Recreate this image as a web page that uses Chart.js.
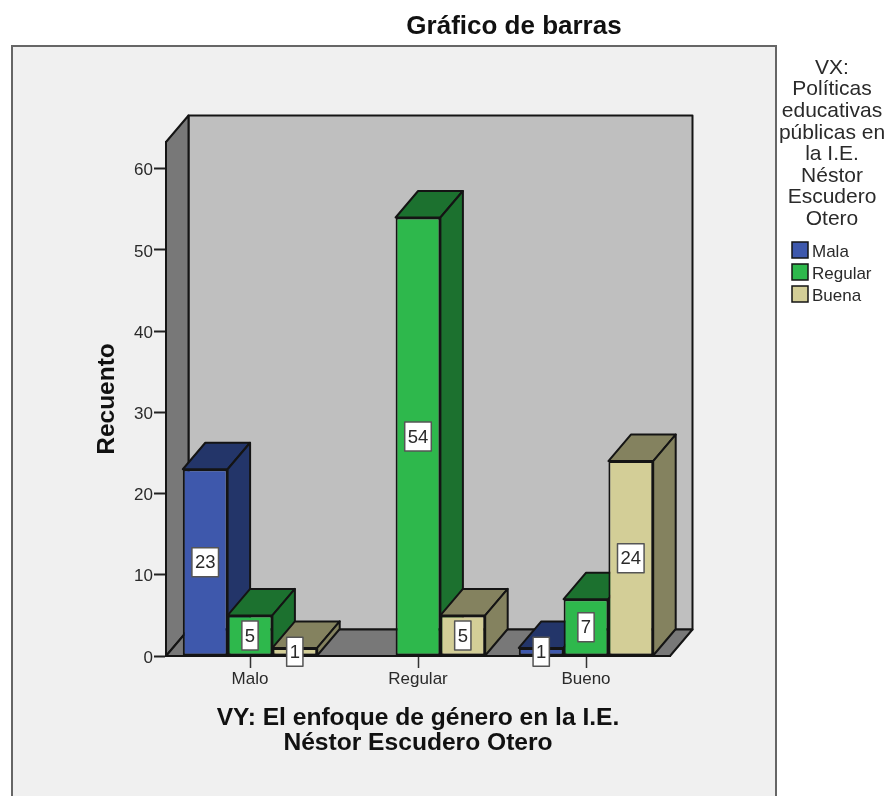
<!DOCTYPE html>
<html>
<head>
<meta charset="utf-8">
<title>Gráfico de barras</title>
<script src="https://cdn.jsdelivr.net/npm/chart.js@4"></script>
<style>
    html, body { margin: 0; padding: 0; background: #fff; overflow: hidden; }
    #wrap { position: relative; width: 890px; height: 796px; }
</style>
</head>
<body>
<div id="wrap"><canvas id="barChart" width="890" height="796"></canvas></div>
<script>
// Datos
const categories = ['Malo', 'Regular', 'Bueno'];
const seriesNames = ['Mala', 'Regular', 'Buena'];
const malaValues = [23, null, 1];
const regularValues = [5, 54, 7];
const buenaValues = [1, 5, 24];
const legendTitle = ['VX:', 'Políticas', 'educativas', 'públicas en', 'la I.E.', 'Néstor', 'Escudero', 'Otero'];
const chartTitle = 'Gráfico de barras';
const xTitle = ['VY: El enfoque de género en la I.E.', 'Néstor Escudero Otero'];
const yTitle = 'Recuento';

// Colores
const frontColors = ['#3e58ac', '#2eb84c', '#d3ce97'];
const shadeColors = ['#233569', '#1c712f', '#84825f'];
const lineColor = '#141414';
const textColor = '#2a2a2a';
const fontName = '"Liberation Sans", Arial, sans-serif';

// Profundidad del efecto 3D
const depthX = 22.5;
const depthY = 26.5;

function poly(ctx, pts, fill, stroke, width) {
    ctx.beginPath();
    pts.forEach((p, i) => i ? ctx.lineTo(p[0], p[1]) : ctx.moveTo(p[0], p[1]));
    ctx.closePath();
    ctx.fillStyle = fill;
    ctx.fill();
    ctx.strokeStyle = stroke;
    ctx.lineWidth = width;
    ctx.lineJoin = 'round';
    ctx.stroke();
}

const panel3d = {
    id: 'panel3d',
    // Marco gris y paredes del grafico
    beforeDraw(chart) {
        const ctx = chart.ctx;
        const a = chart.chartArea;
        ctx.save();
        ctx.fillStyle = '#f0f0f0';
        ctx.fillRect(12, 46, 764, 760);
        ctx.strokeStyle = '#666';
        ctx.lineWidth = 2;
        ctx.strokeRect(12, 46, 764, 760);

        const bx = a.left + depthX, bb = a.bottom - depthY, bt = a.top - depthY;
        poly(ctx, [[bx, bt], [a.right + depthX, bt], [a.right + depthX, bb], [bx, bb]], '#bfbfbf', lineColor, 2);
        poly(ctx, [[a.left, a.bottom], [bx, bb], [bx, bt], [a.left, a.top]], '#787878', lineColor, 2);
        poly(ctx, [[a.left, a.bottom], [bx, bb], [a.right + depthX, bb], [a.right, a.bottom]], '#787878', lineColor, 2);
        ctx.restore();
    },
    // Cancelar el dibujo normal: las barras van de izquierda a derecha
    beforeDatasetDraw() {
        return false;
    },
    afterDatasetsDraw(chart) {
        const ctx = chart.ctx;
        ctx.save();
        seriesNames.forEach((name, i) => {
            chart.getDatasetMeta(i).data.forEach((bar, k) => {
                if (chart.data.datasets[i].data[k] === null) return;
                const half = bar.width / 2;
                const l = bar.x - half, r = bar.x + half, t = bar.y, b = bar.base;
                bar.draw(ctx);
                poly(ctx, [[l, t], [l + depthX, t - depthY], [r + depthX, t - depthY], [r, t]], shadeColors[i], lineColor, 2);
                poly(ctx, [[r, t], [r + depthX, t - depthY], [r + depthX, b - depthY], [r, b]], shadeColors[i], lineColor, 2);
            });
        });

        // Etiquetas de valor, siempre encima
        ctx.font = '18.5px ' + fontName;
        ctx.textAlign = 'center';
        ctx.textBaseline = 'middle';
        seriesNames.forEach((name, i) => {
            chart.getDatasetMeta(i).data.forEach((bar, k) => {
                const val = chart.data.datasets[i].data[k];
                if (val === null) return;
                const txt = String(val);
                const w = ctx.measureText(txt).width + 6;
                const cy = (bar.y + bar.base) / 2;
                ctx.fillStyle = '#fff';
                ctx.fillRect(bar.x - w / 2, cy - 14.5, w, 29);
                ctx.strokeStyle = '#555';
                ctx.lineWidth = 1.5;
                ctx.strokeRect(bar.x - w / 2, cy - 14.5, w, 29);
                ctx.fillStyle = textColor;
                ctx.fillText(txt, bar.x, cy + 1);
            });
        });
        ctx.restore();
    },
    // Titulo y leyenda
    afterDraw(chart) {
        const ctx = chart.ctx;
        ctx.save();
        ctx.textBaseline = 'middle';
        ctx.textAlign = 'center';
        ctx.fillStyle = '#111';
        ctx.font = 'bold 26px ' + fontName;
        ctx.fillText(chartTitle, 514, 27);

        ctx.fillStyle = textColor;
        ctx.font = '21px ' + fontName;
        legendTitle.forEach((line, i) => ctx.fillText(line, 832, 68 + i * 21.6));

        ctx.textAlign = 'left';
        ctx.font = '17px ' + fontName;
        seriesNames.forEach((name, i) => {
            const y = 250 + i * 22;
            ctx.fillStyle = frontColors[i];
            ctx.fillRect(792, y - 8, 16, 16);
            ctx.strokeStyle = lineColor;
            ctx.lineWidth = 1.5;
            ctx.strokeRect(792, y - 8, 16, 16);
            ctx.fillStyle = textColor;
            ctx.fillText(name, 812, y + 2);
        });
        ctx.restore();
    }
};

new Chart(document.getElementById('barChart'), {
    type: 'bar',
    data: {
        labels: categories,
        datasets: [
            { label: seriesNames[0], data: malaValues, backgroundColor: frontColors[0] },
            { label: seriesNames[1], data: regularValues, backgroundColor: frontColors[1] },
            { label: seriesNames[2], data: buenaValues, backgroundColor: frontColors[2] }
        ]
    },
    options: {
        responsive: false,
        animation: false,
        layout: { padding: { left: 86, right: 220, top: 142, bottom: 40 } },
        datasets: {
            bar: {
                categoryPercentage: 0.8,
                barPercentage: 1,
                borderWidth: 2,
                borderColor: lineColor,
                borderSkipped: false
            }
        },
        plugins: {
            legend: { display: false },
            title: { display: false },
            tooltip: { enabled: false }
        },
        scales: {
            x: {
                afterFit: s => { s.height = 100; },
                grid: { offset: false, drawOnChartArea: false, drawTicks: true, tickLength: 12, tickColor: '#333', tickWidth: 1.5 },
                border: { color: lineColor, width: 2 },
                ticks: { color: textColor, font: { family: fontName, size: 17 }, padding: 1, maxRotation: 0 },
                title: {
                    display: true,
                    text: xTitle,
                    color: '#111',
                    font: { family: fontName, size: 24.6, weight: 'bold', lineHeight: 1.02 },
                    padding: { top: 8, bottom: 0 }
                }
            },
            y: {
                min: 0,
                max: 63.3,
                afterFit: s => { s.width = 80; },
                afterBuildTicks: s => { s.ticks = s.ticks.filter(t => t.value % 10 === 0); },
                grid: { drawOnChartArea: false, drawTicks: true, tickLength: 12, tickColor: '#222', tickWidth: 2 },
                border: { color: lineColor, width: 2 },
                ticks: { stepSize: 10, color: textColor, font: { family: fontName, size: 17 }, padding: 1, labelOffset: 2 },
                title: {
                    display: true,
                    text: yTitle,
                    color: '#111',
                    font: { family: fontName, size: 24.5, weight: 'bold' },
                    padding: { top: 7, bottom: 0 }
                }
            }
        }
    },
    plugins: [panel3d]
});
</script>
</body>
</html>
